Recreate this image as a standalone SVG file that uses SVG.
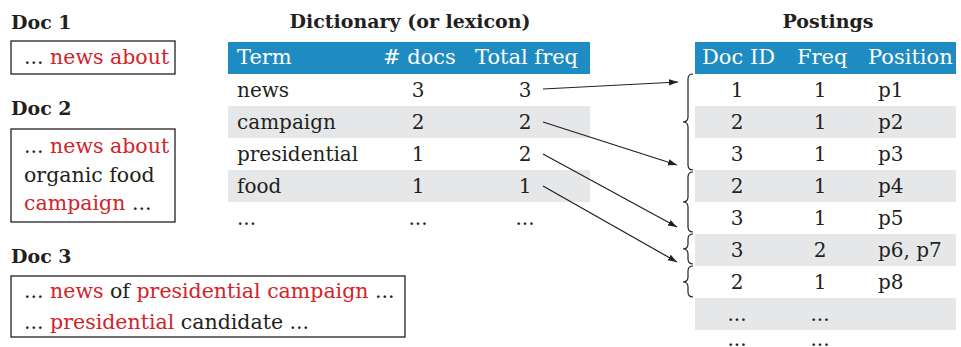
<svg xmlns="http://www.w3.org/2000/svg" width="961" height="347" viewBox="0 0 961 347">
  <style>
    text { font-family: "DejaVu Serif", "Liberation Serif", serif; fill: #231f20; font-size: 20px; }
    .title { font-weight: bold; font-size: 19px; }
    .doc { font-size: 20.5px; }
    .hl { fill: #d2232a; }
    .hdr { fill: #ffffff; font-size: 21px; }
    .head { fill: #1e8bc3; }
    .band { fill: #e6e7e8; }
    .box { fill: none; stroke: #231f20; stroke-width: 1.3; }
    .mid { text-anchor: middle; }
    .conn { stroke: #231f20; stroke-width: 1.2; fill: none; }
    .brace { stroke: #231f20; stroke-width: 1.2; fill: none; }
  </style>
  <defs>
    <marker id="arr" viewBox="0 0 10 10" refX="10" refY="5" markerWidth="9" markerHeight="9" markerUnits="userSpaceOnUse" orient="auto">
      <path d="M0,1.5 L10,5 L0,8.5 Z" fill="#231f20"/>
    </marker>
  </defs>
  <rect width="961" height="347" fill="#ffffff"/>

  <!-- Documents -->
  <g id="doc1">
    <text class="title" x="11" y="29">Doc 1</text>
    <rect class="box" x="11" y="41" width="164" height="33"/>
    <text class="doc" x="24" y="64">... <tspan class="hl">news about</tspan></text>
  </g>
  <g id="doc2">
    <text class="title" x="11" y="115">Doc 2</text>
    <rect class="box" x="11" y="129" width="164" height="93"/>
    <text class="doc" x="24" y="153">... <tspan class="hl">news about</tspan></text>
    <text class="doc" x="24" y="182">organic food</text>
    <text class="doc" x="24" y="210"><tspan class="hl">campaign</tspan> ...</text>
  </g>
  <g id="doc3">
    <text class="title" x="11" y="263">Doc 3</text>
    <rect class="box" x="11" y="276" width="394" height="61"/>
    <text class="doc" x="24" y="298">... <tspan class="hl">news</tspan> of <tspan class="hl">presidential campaign</tspan> ...</text>
    <text class="doc" x="24" y="329">... <tspan class="hl">presidential</tspan> candidate ...</text>
  </g>

  <!-- Dictionary table -->
  <g id="dictionary">
    <text class="title mid" x="410" y="28">Dictionary (or lexicon)</text>
    <rect class="head" x="228" y="42" width="362" height="32"/>
    <rect class="band" x="228" y="106" width="362" height="32"/>
    <rect class="band" x="228" y="170" width="362" height="32"/>
    <text class="hdr" x="237" y="64">Term</text>
    <text class="hdr" x="383" y="64"># docs</text>
    <text class="hdr" x="475" y="64">Total freq</text>
    <text x="237" y="97">news</text>
    <text x="237" y="129">campaign</text>
    <text x="237" y="161">presidential</text>
    <text x="237" y="193">food</text>
    <text x="237" y="225">...</text>
    <text class="mid" x="418" y="97">3</text>
    <text class="mid" x="418" y="129">2</text>
    <text class="mid" x="418" y="161">1</text>
    <text class="mid" x="418" y="193">1</text>
    <text class="mid" x="418" y="225">...</text>
    <text class="mid" x="525" y="97">3</text>
    <text class="mid" x="525" y="129">2</text>
    <text class="mid" x="525" y="161">2</text>
    <text class="mid" x="525" y="193">1</text>
    <text class="mid" x="525" y="225">...</text>
  </g>

  <!-- Postings table -->
  <g id="postings">
    <text class="title mid" x="828" y="28">Postings</text>
    <rect class="head" x="695" y="42" width="261" height="32"/>
    <rect class="band" x="695" y="106" width="261" height="32"/>
    <rect class="band" x="695" y="170" width="261" height="32"/>
    <rect class="band" x="695" y="234" width="261" height="32"/>
    <rect class="band" x="695" y="298" width="261" height="32"/>
    <text class="hdr" x="702" y="64">Doc ID</text>
    <text class="hdr" x="797" y="64">Freq</text>
    <text class="hdr" x="868" y="64">Position</text>
    <text class="mid" x="737" y="97">1</text>
    <text class="mid" x="737" y="129">2</text>
    <text class="mid" x="737" y="161">3</text>
    <text class="mid" x="737" y="193">2</text>
    <text class="mid" x="737" y="225">3</text>
    <text class="mid" x="737" y="257">3</text>
    <text class="mid" x="737" y="289">2</text>
    <text class="mid" x="737" y="321">...</text>
    <text class="mid" x="737" y="346">...</text>
    <text class="mid" x="820" y="97">1</text>
    <text class="mid" x="820" y="129">1</text>
    <text class="mid" x="820" y="161">1</text>
    <text class="mid" x="820" y="193">1</text>
    <text class="mid" x="820" y="225">1</text>
    <text class="mid" x="820" y="257">2</text>
    <text class="mid" x="820" y="289">1</text>
    <text class="mid" x="820" y="321">...</text>
    <text class="mid" x="820" y="346">...</text>
    <text x="878" y="97">p1</text>
    <text x="878" y="129">p2</text>
    <text x="878" y="161">p3</text>
    <text x="878" y="193">p4</text>
    <text x="878" y="225">p5</text>
    <text x="878" y="257">p6, p7</text>
    <text x="878" y="289">p8</text>
  </g>

  <!-- Braces grouping each posting list -->
  <g id="braces">
    <path class="brace" d="M693,74 Q688,74 688,79 L688,117 Q688,122 683,122 Q688,122 688,127 L688,165 Q688,170 693,170"/>
    <path class="brace" d="M693,172 Q688,172 688,177 L688,197 Q688,202 683,202 Q688,202 688,207 L688,227 Q688,232 693,232"/>
    <path class="brace" d="M693,234 Q688,234 688,239 L688,244 Q688,249 683,249 Q688,249 688,254 L688,259 Q688,264 693,264"/>
    <path class="brace" d="M693,266 Q688,266 688,271 L688,277 Q688,282 683,282 Q688,282 688,287 L688,292 Q688,297 693,297"/>
  </g>

  <!-- Connectors from dictionary entries to posting lists -->
  <g id="connectors">
    <line class="conn" x1="543" y1="89" x2="678" y2="82" marker-end="url(#arr)"/>
    <line class="conn" x1="543" y1="122" x2="677" y2="165" marker-end="url(#arr)"/>
    <line class="conn" x1="543" y1="154" x2="677" y2="227" marker-end="url(#arr)"/>
    <line class="conn" x1="543" y1="186" x2="677" y2="262" marker-end="url(#arr)"/>
  </g>
</svg>
